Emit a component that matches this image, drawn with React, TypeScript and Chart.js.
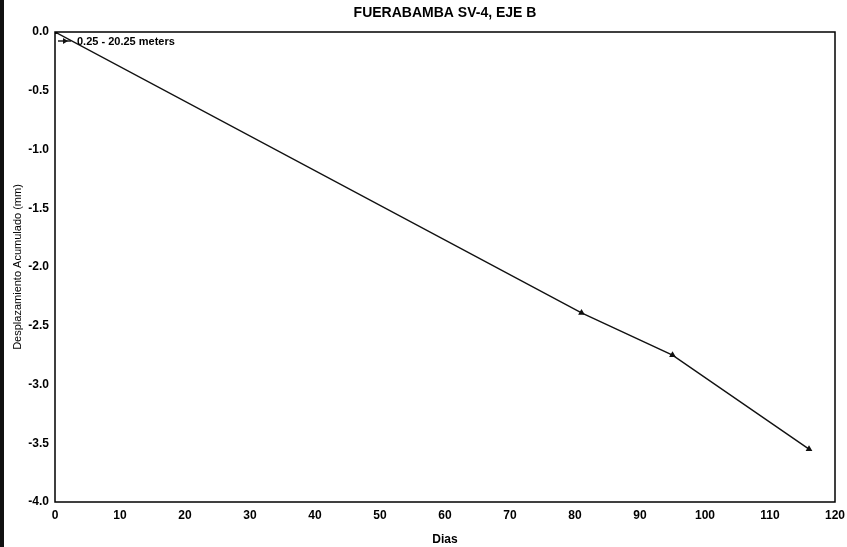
import React, { useEffect, useRef } from "react";
import { Chart, registerables } from "chart.js";

Chart.register(...registerables);

const chartTitle = "FUERABAMBA SV-4, EJE B";
const seriesLabel = "0.25 - 20.25 meters";
const days = [0, 81, 95, 116];
const displacement = [0, -2.39, -2.75, -3.55];
const xTitle = "Dias";
const yTitle = "Desplazamiento Acumulado (mm)";

const FONT = "Liberation Sans, Arial, sans-serif";

const decor = {
  id: "decor",
  afterDraw(chart: any) {
    const { ctx, chartArea } = chart;
    ctx.save();
    // frame
    ctx.strokeStyle = "#000";
    ctx.lineWidth = 1.5;
    ctx.strokeRect(chartArea.left, chartArea.top, chartArea.right - chartArea.left, chartArea.bottom - chartArea.top);
    // title centred on plot area
    ctx.fillStyle = "#000";
    ctx.font = `bold 14px ${FONT}`;
    ctx.textAlign = "center";
    ctx.textBaseline = "middle";
    ctx.fillText(chartTitle, (chartArea.left + chartArea.right) / 2, chartArea.top - 19);
    // legend inside plot area
    const lx = chartArea.left + 3;
    const ly = chartArea.top + 9;
    ctx.strokeStyle = "#111";
    ctx.lineWidth = 1.4;
    ctx.beginPath();
    ctx.moveTo(lx, ly);
    ctx.lineTo(lx + 13, ly);
    ctx.stroke();
    ctx.beginPath();
    ctx.moveTo(lx + 10, ly);
    ctx.lineTo(lx + 5, ly - 3);
    ctx.lineTo(lx + 5, ly + 3);
    ctx.closePath();
    ctx.fillStyle = "#111";
    ctx.fill();
    ctx.fillStyle = "#000";
    ctx.font = `bold 11px ${FONT}`;
    ctx.textAlign = "left";
    ctx.fillText(seriesLabel, lx + 19, ly + 1);
    ctx.restore();
  },
};

export default function App() {
  const ref = useRef<HTMLCanvasElement>(null);
  useEffect(() => {
    if (!ref.current) return;
    const chart = new Chart(ref.current, {
      type: "line",
      data: {
        datasets: [
          {
            label: seriesLabel,
            data: days.map((d, i) => ({ x: d, y: displacement[i] })),
            borderColor: "#111",
            backgroundColor: "#111",
            borderWidth: 1.4,
            pointStyle: "triangle",
            pointRadius: 2.5,
            pointBackgroundColor: "#111",
            pointBorderColor: "#111",
            tension: 0,
          },
        ],
      },
      options: {
        animation: false,
        responsive: false,
        layout: { padding: { left: 0, right: 12, top: 32, bottom: 0 } },
        plugins: {
          title: { display: false },
          legend: { display: false },
          tooltip: { enabled: false },
        },
        scales: {
          x: {
            type: "linear",
            min: 0,
            max: 120,
            ticks: {
              stepSize: 10,
              color: "#000",
              padding: 6,
              font: { family: FONT, size: 12, weight: "bold" },
            },
            grid: { display: false, drawTicks: false },
            border: { display: false },
            title: {
              display: true,
              text: xTitle,
              color: "#000",
              font: { family: FONT, size: 12, weight: "bold" },
              padding: { top: 5, bottom: 0 },
            },
            afterFit: (s: any) => {
              s.height = 45;
              s.paddingRight = 0;
              s.paddingLeft = 0;
            },
          },
          y: {
            type: "linear",
            min: -4,
            max: 0,
            ticks: {
              stepSize: 0.5,
              color: "#000",
              padding: 6,
              font: { family: FONT, size: 12, weight: "bold" },
              callback: (v: any) => Number(v).toFixed(1),
            },
            grid: { display: false, drawTicks: false },
            border: { display: false },
            title: {
              display: true,
              text: yTitle,
              color: "#000",
              font: { family: FONT, size: 11 },
              padding: { top: 11, bottom: 0 },
            },
            afterFit: (s: any) => {
              s.width = 55;
              s.paddingTop = 0;
              s.paddingBottom = 0;
            },
          },
        },
      },
      plugins: [decor],
    });
    return () => chart.destroy();
  }, []);
  return (
    <div style={{ position: "fixed", left: 0, top: 0, width: 847, height: 547, background: "#fff" }}>
      <div style={{ position: "absolute", left: 0, top: 0, width: 4, height: 547, background: "#111" }} />
      <canvas ref={ref} width={847} height={547} style={{ display: "block" }} />
    </div>
  );
}
